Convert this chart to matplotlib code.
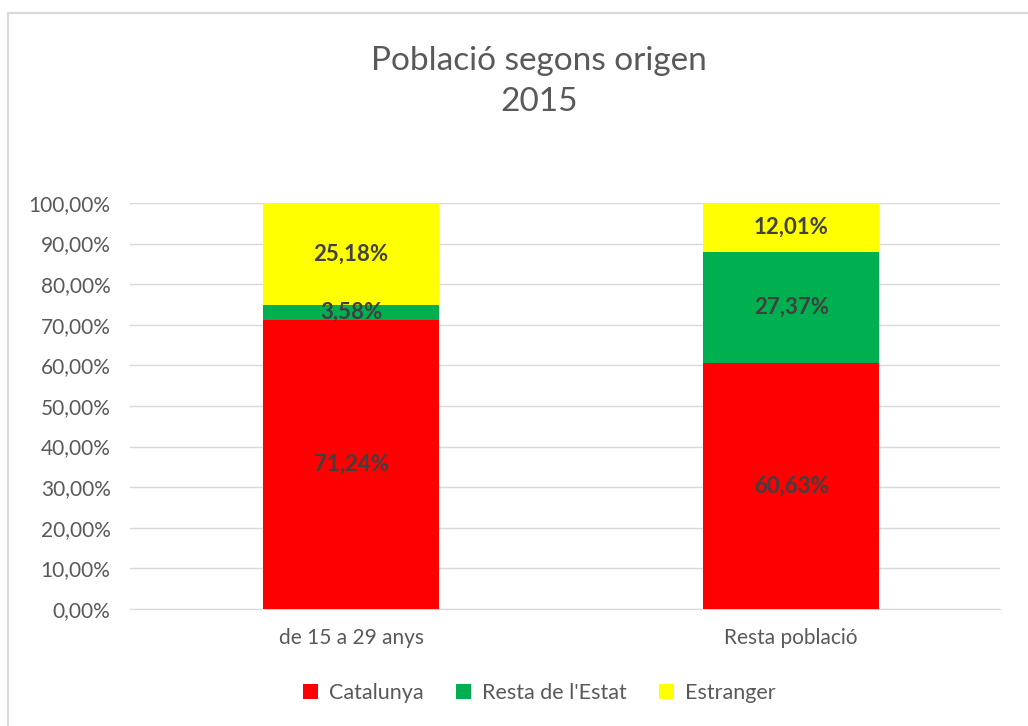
import matplotlib.pyplot as plt
from matplotlib.lines import Line2D
from matplotlib.ticker import FuncFormatter

categories = ['de 15 a 29 anys', 'Resta població']
series_names = ['Catalunya', "Resta de l'Estat", 'Estranger']
catalunya = [71.24, 60.63]
resta_estat = [3.58, 27.37]
estranger = [25.18, 12.01]
colors = ['#ff0000', '#00b050', '#ffff00']

plt.rcParams['font.family'] = ['Lato', 'DejaVu Sans']
text_grey = '#595959'

fig = plt.figure(figsize=(10.28, 7.26), dpi=100)
ax = fig.add_axes([0.1265, 0.1612, 0.8465, 0.5592])

x = range(len(categories))
bottom = [0, 0]
for name, vals, col in zip(series_names, [catalunya, resta_estat, estranger], colors):
    ax.bar(x, vals, width=0.4, bottom=bottom, color=col, label=name, zorder=3)
    for i, v in enumerate(vals):
        ax.text(i, bottom[i] + v / 2, f'{v:.2f}%'.replace('.', ','),
                ha='center', va='center', fontsize=16, fontweight='bold',
                color='#404040', zorder=4)
    bottom = [b + v for b, v in zip(bottom, vals)]

ax.set_xlim(-0.502, 1.475)
ax.set_ylim(0, 100)
ax.set_yticks(range(0, 101, 10))
ax.yaxis.set_major_formatter(FuncFormatter(lambda v, p: f'{v:.2f}%'.replace('.', ',')))
ax.set_xticks(list(x))
ax.set_xticklabels(categories)
ax.grid(axis='y', color='#d9d9d9', linewidth=1, zorder=0)
for s in ['top', 'right', 'left']:
    ax.spines[s].set_visible(False)
ax.spines['bottom'].set_color('#d9d9d9')
ax.tick_params(axis='both', length=0, labelsize=15, colors=text_grey)
ax.tick_params(axis='y', pad=14)
ax.tick_params(axis='x', pad=14)

fig.text(0.5245, 0.888, 'Població segons origen\n2015', ha='center', va='center',
         fontsize=24, color=text_grey, linespacing=1.45)

fig.legend(loc='center', bbox_to_anchor=(0.5245, 0.0455), ncol=3, frameon=False,
           fontsize=15.5, labelcolor=text_grey, handlelength=0.7, handleheight=0.7,
           columnspacing=1.5, handletextpad=0.5, borderaxespad=0)

# chart border (left and top edges visible)
fig.add_artist(Line2D([8 / 1028, 8 / 1028], [0, 1 - 13 / 726], transform=fig.transFigure,
                      color='#d9d9d9', linewidth=1.5))
fig.add_artist(Line2D([8 / 1028, 1], [1 - 13 / 726, 1 - 13 / 726], transform=fig.transFigure,
                      color='#d9d9d9', linewidth=1.5))

fig.savefig('out.png', dpi=100, facecolor='white')
